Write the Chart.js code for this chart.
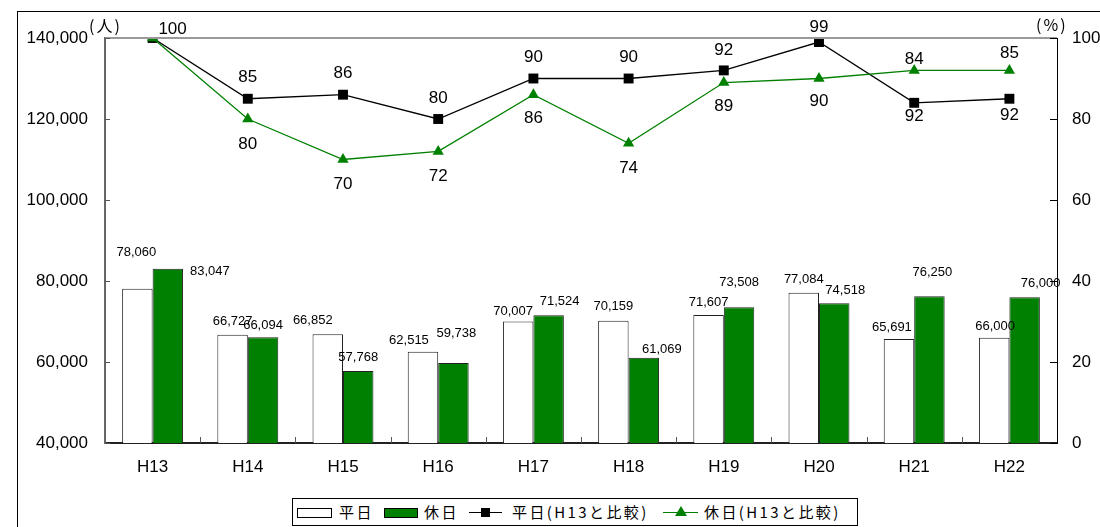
<!DOCTYPE html>
<html lang="ja">
<head>
<meta charset="UTF-8">
<title>平日・休日</title>
<script src="https://cdn.jsdelivr.net/npm/chart.js"></script>
<style>
  body { margin: 0; background: #fff; }
  #wrap { position: relative; width: 1100px; height: 527px; overflow: hidden; }
  #frame { position: absolute; left: 17px; top: 11px; width: 1200px; height: 600px;
           border-left: 1px solid #000; border-top: 1px solid #000; }
  canvas { position: absolute; left: 0; top: 0; }
  .unit { position: absolute; font-family: "Noto Sans CJK JP", sans-serif; font-size: 16px;
          letter-spacing: 2px; color: #000; line-height: 20px; }
  #legend { position: absolute; left: 292px; top: 498px; width: 564px; height: 26px;
            border: 1px solid #000; background: #fff; }
  #legend .t { position: absolute; top: 1px; font-family: "Noto Sans CJK JP", sans-serif;
               font-size: 15px; letter-spacing: 2.4px; line-height: 24px; color: #000; white-space: nowrap; }
  #legend .box { position: absolute; top: 9px; height: 8px; border: 1px solid #000; }
  #legend .ln { position: absolute; top: 13px; height: 1px; }
</style>
</head>
<body>
<div id="wrap">
  <div id="frame"></div>
  <canvas id="grafico" width="1100" height="527"></canvas>
  <div class="unit" style="left:89px; top:15px;">(人)</div>
  <div class="unit" style="left:1036px; top:14px;">(%)</div>
  <div id="legend">
    <div class="box" style="left:4px; width:33px; background:#fff;"></div>
    <div class="t" style="left:46px;">平日</div>
    <div class="box" style="left:91px; width:32px; background:#008000;"></div>
    <div class="t" style="left:131px;">休日</div>
    <div class="ln" style="left:176px; width:33px; background:#000;"></div>
    <div style="position:absolute; left:188px; top:9px; width:9px; height:9px; background:#000;"></div>
    <div class="t" style="left:219px;">平日(H13と比較)</div>
    <div class="ln" style="left:370px; width:35px; background:#008000;"></div>
    <div style="position:absolute; left:382px; top:7px; width:0; height:0; border-left:6px solid transparent; border-right:6px solid transparent; border-bottom:10px solid #008000;"></div>
    <div class="t" style="left:411px;">休日(H13と比較)</div>
  </div>
</div>

<script>
var anos = ['H13', 'H14', 'H15', 'H16', 'H17', 'H18', 'H19', 'H20', 'H21', 'H22'];
var heijitsu = [78060, 66727, 66852, 62515, 70007, 70159, 71607, 77084, 65691, 66000];
var kyujitsu = [83047, 66094, 57768, 59738, 71524, 61069, 73508, 74518, 76250, 76000];
var heijitsuPct = [100, 85, 86, 80, 90, 90, 92, 99, 84, 85];
var kyujitsuPct = [100, 80, 70, 72, 86, 74, 89, 90, 92, 92];
var ticksPessoas = [40000, 60000, 80000, 100000, 120000, 140000];
var ticksPct = [0, 20, 40, 60, 80, 100];

// label nudges (px) as placed by hand in the original
var nudgeHeijitsu = [[-1, -36], [0, -13], [-15, -14], [-14, -11], [-5, -10], [0, -14], [0, -13], [0, -13], [-7, -12], [1, -11]];
var nudgeKyujitsu = [[42, 3], [0, -12], [0, -14], [3, -30], [11, -14], [18, -8], [0, -25], [11, -13], [3, -24], [16, -14]];
var nudgeHeijitsuPct = [[20, -9], [0, -21], [0, -21], [0, -21], [0, -21], [0, -21], [0, -20], [0, -15], [0, -43], [0, -45]];
var nudgeKyujitsuPct = [null, [0, 25], [0, 25], [0, 25], [0, 24], [0, 25], [0, 24], [0, 23], [0, 46], [0, 45]];

var verde = '#008000';
var fonte = '"Liberation Sans", Arial, sans-serif';

function fmt(v) {
  return v.toLocaleString('en-US');
}

var rotulos = {
  id: 'rotulos',
  afterDraw: function (chart) {
    var ctx = chart.ctx;
    var area = chart.chartArea;
    var xs = chart.scales.x;
    var yl = chart.scales.y;
    var yr = chart.scales.y2;

    ctx.save();
    // top border of plot area
    ctx.strokeStyle = '#999';
    ctx.lineWidth = 2;
    ctx.beginPath();
    ctx.moveTo(area.left, area.top);
    ctx.lineTo(area.right, area.top);
    ctx.stroke();

    // inward tick marks
    ctx.lineWidth = 1;
    ctx.strokeStyle = '#555';
    ticksPessoas.forEach(function (t) {
      var y = Math.round(yl.getPixelForValue(t)) + 0.5;
      ctx.beginPath();
      ctx.moveTo(area.left, y);
      ctx.lineTo(area.left + 5, y);
      ctx.stroke();
    });
    ctx.strokeStyle = '#000';
    ticksPct.forEach(function (t) {
      var y = Math.round(yr.getPixelForValue(t)) + 0.5;
      ctx.beginPath();
      ctx.moveTo(area.right - 7, y);
      ctx.lineTo(area.right, y);
      ctx.stroke();
    });
    ctx.strokeStyle = '#555';
    for (var i = 1; i < anos.length; i++) {
      var xb = Math.round((xs.getPixelForValue(i - 1) + xs.getPixelForValue(i)) / 2) + 0.5;
      ctx.beginPath();
      ctx.moveTo(xb, area.bottom);
      ctx.lineTo(xb, area.bottom - 6);
      ctx.stroke();
    }

    ctx.fillStyle = '#000';
    ctx.textAlign = 'center';
    ctx.textBaseline = 'middle';

    // bar labels
    ctx.font = '13px ' + fonte;
    [[0, heijitsu, nudgeHeijitsu], [1, kyujitsu, nudgeKyujitsu]].forEach(function (s) {
      var meta = chart.getDatasetMeta(s[0]);
      meta.data.forEach(function (bar, k) {
        var n = s[2][k];
        ctx.fillText(fmt(s[1][k]), bar.x + n[0], bar.y + n[1]);
      });
    });

    // line labels
    ctx.font = '17px ' + fonte;
    [[2, heijitsuPct, nudgeHeijitsuPct], [3, kyujitsuPct, nudgeKyujitsuPct]].forEach(function (s) {
      var meta = chart.getDatasetMeta(s[0]);
      meta.data.forEach(function (pt, k) {
        var n = s[2][k];
        if (!n) return;
        ctx.fillText(String(s[1][k]), pt.x + n[0], pt.y + n[1]);
      });
    });
    ctx.restore();
  }
};

new Chart(document.getElementById('grafico'), {
  type: 'bar',
  data: {
    labels: anos,
    datasets: [
      {
        label: '平日',
        data: heijitsu,
        backgroundColor: '#ffffff',
        borderColor: '#222',
        borderWidth: 1,
        yAxisID: 'y',
        order: 2,
        categoryPercentage: 0.64,
        barPercentage: 1.0
      },
      {
        label: '休日',
        data: kyujitsu,
        backgroundColor: verde,
        borderColor: '#222',
        borderWidth: 1,
        yAxisID: 'y',
        order: 2,
        categoryPercentage: 0.64,
        barPercentage: 1.0
      },
      {
        type: 'line',
        label: '平日(H13と比較)',
        data: heijitsuPct,
        borderColor: '#000',
        backgroundColor: '#000',
        borderWidth: 1.3,
        pointStyle: 'rect',
        pointRadius: 7,
        pointBorderWidth: 0,
        yAxisID: 'y2',
        order: 1
      },
      {
        type: 'line',
        label: '休日(H13と比較)',
        data: kyujitsuPct,
        borderColor: verde,
        backgroundColor: verde,
        borderWidth: 1.3,
        pointStyle: 'triangle',
        pointRadius: 6.5,
        pointBorderWidth: 0,
        yAxisID: 'y2',
        order: 0
      }
    ]
  },
  options: {
    responsive: false,
    animation: false,
    layout: { padding: { top: 38, left: 0, right: 0, bottom: 0 } },
    plugins: {
      legend: { display: false },
      tooltip: { enabled: false }
    },
    scales: {
      x: {
        grid: { display: false, drawTicks: false },
        border: { display: true, color: '#222', width: 2 },
        ticks: { color: '#000', padding: 14, font: { family: fonte, size: 17 } },
        afterFit: function (s) { s.height = 84; }
      },
      y: {
        position: 'left',
        min: 40000,
        max: 140000,
        afterBuildTicks: function (s) { s.ticks = ticksPessoas.map(function (v) { return { value: v }; }); },
        grid: { display: false, drawTicks: false },
        border: { display: true, color: '#666', width: 2 },
        ticks: {
          color: '#000',
          padding: 17,
          font: { family: fonte, size: 17 },
          callback: function (v) { return fmt(v); }
        },
        afterFit: function (s) { s.width = 105; }
      },
      y2: {
        position: 'right',
        min: 0,
        max: 100,
        afterBuildTicks: function (s) { s.ticks = ticksPct.map(function (v) { return { value: v }; }); },
        grid: { display: false, drawTicks: false },
        border: { display: true, color: '#000', width: 1 },
        ticks: { color: '#000', padding: 15, font: { family: fonte, size: 17 } },
        afterFit: function (s) { s.width = 43; }
      }
    }
  },
  plugins: [rotulos]
});
</script>
</body>
</html>
